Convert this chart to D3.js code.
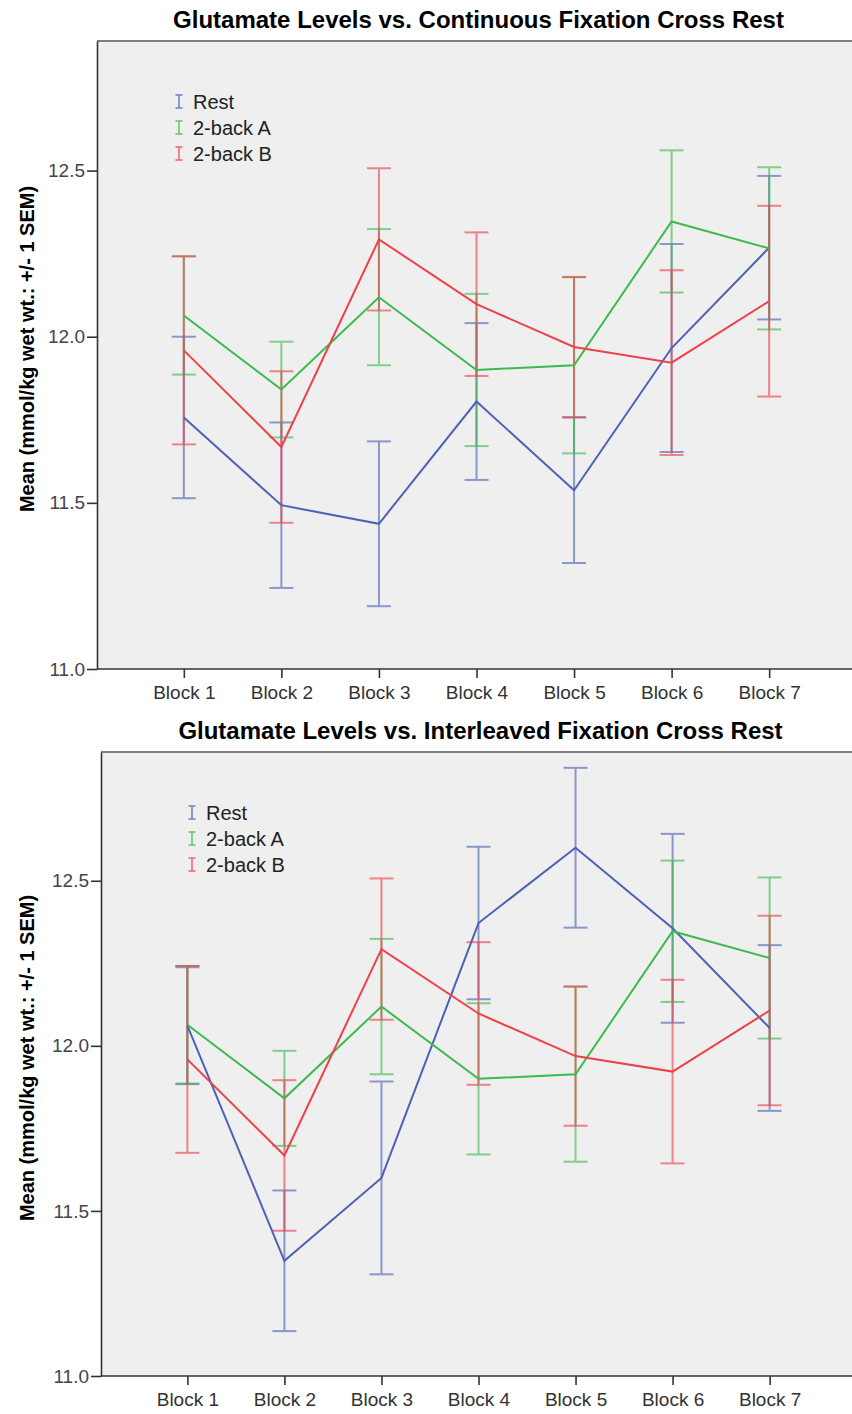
<!DOCTYPE html>
<html>
<head>
<meta charset="utf-8">
<script src="https://cdn.jsdelivr.net/npm/d3@7"></script>
<style>
  html, body { margin: 0; padding: 0; background: #ffffff; }
  svg { display: block; font-family: "Liberation Sans", Arial, sans-serif; }
</style>
</head>
<body>
<svg id="chart" width="852" height="1414"></svg>
<script>
// Categories and tick labels
const blocks = ["Block 1", "Block 2", "Block 3", "Block 4", "Block 5", "Block 6", "Block 7"];
const seriesNames = ["Rest", "2-back A", "2-back B"];
const yTicks = [11.0, 11.5, 12.0, 12.5];

// Mean glutamate (mmol/kg wet wt.) and 1 SEM per block
const contRestMean = [11.757, 11.493, 11.437, 11.805, 11.538, 11.966, 12.268];
const contRestSem  = [0.243, 0.249, 0.248, 0.236, 0.219, 0.313, 0.216];

const interRestMean = [12.061, 11.349, 11.600, 12.372, 12.600, 12.356, 12.054];
const interRestSem  = [0.177, 0.213, 0.292, 0.231, 0.242, 0.286, 0.251];

const twoBackAMean = [12.064, 11.841, 12.119, 11.900, 11.914, 12.347, 12.266];
const twoBackASem  = [0.178, 0.144, 0.205, 0.229, 0.265, 0.214, 0.244];

const twoBackBMean = [11.959, 11.668, 12.293, 12.098, 11.969, 11.922, 12.107];
const twoBackBSem  = [0.283, 0.228, 0.214, 0.216, 0.211, 0.278, 0.287];

const seriesColors = ["#4d62b6", "#3dba4e", "#ef404a"];

const svg = d3.select("#chart");

function buildSeries(restMean, restSem) {
  const means = [restMean, twoBackAMean, twoBackBMean];
  const sems = [restSem, twoBackASem, twoBackBSem];
  return seriesNames.map((name, i) => ({
    name,
    color: seriesColors[i],
    values: blocks.map((b, j) => ({ block: b, mean: means[i][j], sem: sems[i][j] }))
  }));
}

function drawPanel(opts) {
  const { left, right, top, bottom, title, titleY, legendX, legendY, series } = opts;
  const g = svg.append("g");

  const x = d3.scalePoint().domain(blocks).range([left, right]).padding(0.89);
  const y = d3.scaleLinear().domain([11, 12.89]).range([bottom, top]);

  // Plot background
  g.append("rect")
    .attr("x", left).attr("y", top)
    .attr("width", right - left).attr("height", bottom - top)
    .attr("fill", "#efefef");

  // Top frame line
  g.append("line")
    .attr("x1", left).attr("x2", right)
    .attr("y1", top).attr("y2", top)
    .attr("stroke", "#808080").attr("stroke-width", 2);

  // Y axis
  const yAxis = g.append("g")
    .attr("transform", `translate(${left},0)`)
    .call(d3.axisLeft(y).tickValues(yTicks).tickFormat(d3.format(".1f"))
      .tickSize(10).tickSizeOuter(0).tickPadding(2));
  yAxis.select(".domain").attr("stroke", "#333").attr("stroke-width", 1.6);
  yAxis.selectAll(".tick line").attr("stroke", "#333").attr("stroke-width", 1.6);
  yAxis.selectAll(".tick text")
    .attr("fill", "#444").attr("font-size", 19)
    .attr("font-family", "Liberation Sans, Arial, sans-serif");

  // X axis
  const xAxis = g.append("g")
    .attr("transform", `translate(0,${bottom})`)
    .call(d3.axisBottom(x).tickSize(9).tickSizeOuter(0).tickPadding(8));
  xAxis.select(".domain").attr("stroke", "#333").attr("stroke-width", 1.6)
    .attr("d", `M${left},0H${right}`);
  xAxis.selectAll(".tick line").attr("stroke", "#333").attr("stroke-width", 1.6);
  xAxis.selectAll(".tick text")
    .attr("fill", "#333").attr("font-size", 19)
    .attr("font-family", "Liberation Sans, Arial, sans-serif");

  // Y axis title
  g.append("text")
    .attr("transform", `translate(34,${(top + bottom) / 2 - 6}) rotate(-90)`)
    .attr("text-anchor", "middle")
    .attr("font-size", 20).attr("font-weight", "bold").attr("fill", "#000")
    .text("Mean (mmol/kg wet wt.: +/- 1 SEM)");

  // Chart title
  g.append("text")
    .attr("x", (left + right) / 2 + 2).attr("y", titleY)
    .attr("text-anchor", "middle")
    .attr("font-size", 24).attr("font-weight", "bold").attr("fill", "#000")
    .text(title);

  const capHalf = 12;

  // Error bars
  series.forEach(s => {
    const eb = g.append("g").attr("stroke", s.color).attr("stroke-width", 2).attr("opacity", 0.62);
    s.values.forEach(v => {
      const cx = x(v.block);
      const hi = y(v.mean + v.sem), lo = y(v.mean - v.sem);
      eb.append("line").attr("x1", cx).attr("x2", cx).attr("y1", hi).attr("y2", lo);
      eb.append("line").attr("x1", cx - capHalf).attr("x2", cx + capHalf).attr("y1", hi).attr("y2", hi);
      eb.append("line").attr("x1", cx - capHalf).attr("x2", cx + capHalf).attr("y1", lo).attr("y2", lo);
    });
  });

  // Mean lines
  const line = d3.line().x(d => x(d.block)).y(d => y(d.mean));
  series.forEach(s => {
    g.append("path")
      .datum(s.values)
      .attr("fill", "none")
      .attr("stroke", s.color)
      .attr("stroke-width", 2)
      .attr("d", line);
  });

  // Legend
  const lg = g.append("g").attr("transform", `translate(${legendX},${legendY})`);
  series.forEach((s, i) => {
    const row = lg.append("g").attr("transform", `translate(0,${i * 26})`);
    const ic = row.append("g").attr("stroke", s.color).attr("stroke-width", 1.6).attr("opacity", 0.75);
    ic.append("line").attr("x1", 0).attr("x2", 0).attr("y1", -14).attr("y2", -1);
    ic.append("line").attr("x1", -3.5).attr("x2", 3.5).attr("y1", -14).attr("y2", -14);
    ic.append("line").attr("x1", -3.5).attr("x2", 3.5).attr("y1", -1).attr("y2", -1);
    row.append("text")
      .attr("x", 14).attr("y", 0)
      .attr("font-size", 20).attr("fill", "#222")
      .text(s.name);
  });
}

drawPanel({
  left: 97, right: 856, top: 41, bottom: 669,
  title: "Glutamate Levels vs. Continuous Fixation Cross Rest",
  titleY: 28,
  legendX: 179, legendY: 109,
  series: buildSeries(contRestMean, contRestSem)
});

drawPanel({
  left: 101, right: 856, top: 752, bottom: 1376,
  title: "Glutamate Levels vs. Interleaved Fixation Cross Rest",
  titleY: 739,
  legendX: 192, legendY: 820,
  series: buildSeries(interRestMean, interRestSem)
});
</script>
</body>
</html>
